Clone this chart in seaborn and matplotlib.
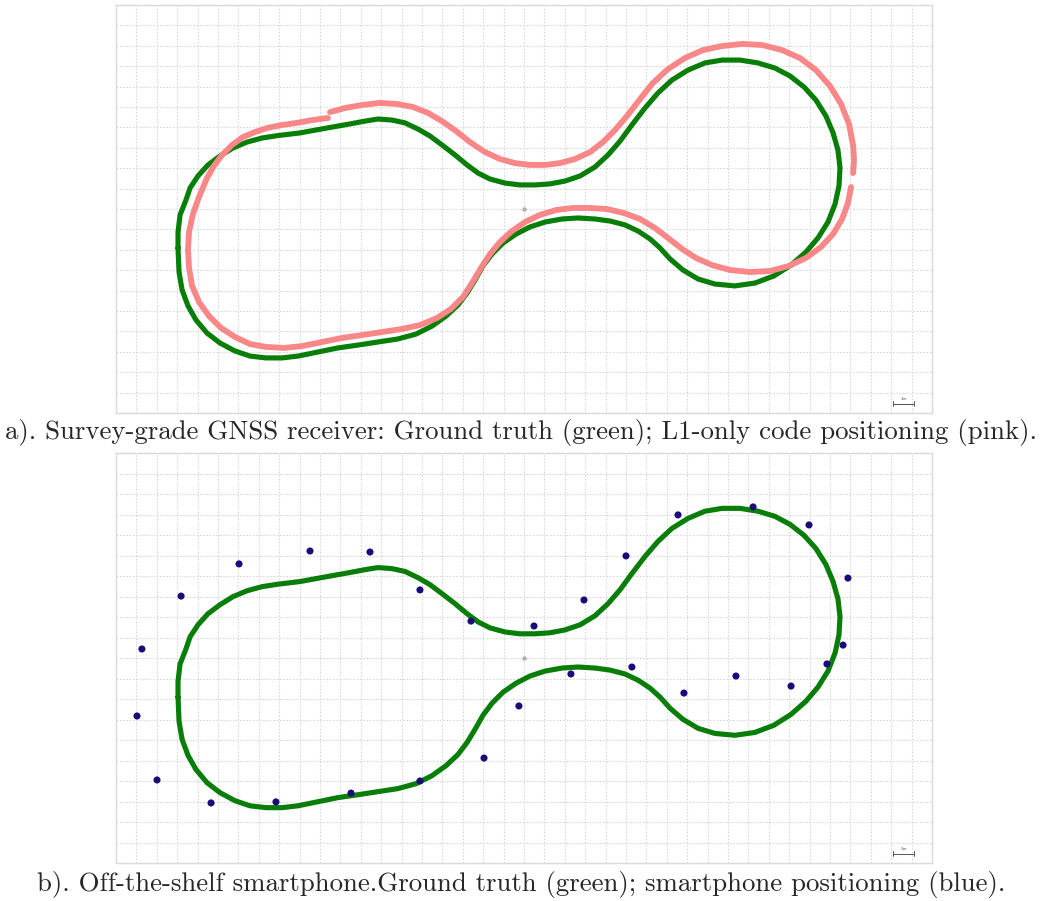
import numpy as np
import pandas as pd
import matplotlib
matplotlib.use("Agg")
import matplotlib.pyplot as plt
import seaborn as sns

# Map extent in metres (1 grid cell = 1 m)
MAP_W, MAP_H = 40, 20

# Ground-truth trajectory (metres, clockwise from the west end)
truth_x = [3.04, 3.04, 3.14, 3.43, 3.63, 4.02, 4.51, 5.10, 5.73, 6.42, 7.16, 7.94,
           9.02, 10.34, 11.47, 12.21, 12.84, 13.53, 14.17, 14.80, 15.39, 15.98, 16.62,
           17.21, 17.75, 18.33, 19.07, 19.80, 20.54, 21.27, 22.01, 22.75, 23.48, 24.12,
           24.71, 25.29, 25.93, 26.57, 27.25, 28.04, 28.87, 29.71, 30.59, 31.47, 32.30,
           33.04, 33.73, 34.31, 34.80, 35.15, 35.39, 35.49, 35.44, 35.25, 34.90, 34.41,
           33.82, 33.09, 32.25, 31.32, 30.34, 29.36, 28.53, 27.79, 27.16, 26.67, 26.18,
           25.59, 24.95, 24.22, 23.48, 22.65, 21.86, 21.03, 20.29, 19.61, 18.97, 18.43,
           17.99, 17.60, 17.21, 16.76, 16.18, 15.49, 14.71, 13.82, 12.84, 11.86, 10.88,
           9.90, 8.92, 8.14, 7.35, 6.57, 5.83, 5.10, 4.46, 3.92, 3.53, 3.24, 3.09, 3.04]
truth_y = [8.09, 8.87, 9.71, 10.44, 11.03, 11.62, 12.16, 12.60, 12.99, 13.28, 13.48, 13.60,
           13.73, 13.97, 14.17, 14.31, 14.41, 14.36, 14.22, 13.92, 13.58, 13.14, 12.65,
           12.16, 11.76, 11.47, 11.27, 11.18, 11.18, 11.23, 11.37, 11.62, 12.06, 12.65,
           13.33, 14.12, 14.95, 15.69, 16.32, 16.81, 17.16, 17.30, 17.30, 17.16, 16.91,
           16.52, 15.98, 15.34, 14.56, 13.73, 12.89, 12.01, 11.13, 10.25, 9.36, 8.58,
           7.89, 7.25, 6.72, 6.37, 6.23, 6.32, 6.57, 7.01, 7.55, 8.09, 8.53,
           8.92, 9.22, 9.41, 9.51, 9.56, 9.51, 9.36, 9.12, 8.77, 8.33, 7.79,
           7.21, 6.52, 5.88, 5.29, 4.75, 4.26, 3.87, 3.63, 3.48, 3.33, 3.19,
           2.99, 2.79, 2.70, 2.70, 2.79, 3.04, 3.43, 3.92, 4.56, 5.25, 6.03, 6.91, 8.09]

# L1-only code positioning, two continuous pieces
l1_seg1_x = [10.49, 11.23, 12.06, 12.94, 13.77, 14.56, 15.29, 15.98, 16.67, 17.35, 18.09,
             18.82, 19.56, 20.29, 21.03, 21.76, 22.50, 23.24, 23.87, 24.46, 25.05, 25.69,
             26.32, 27.06, 27.89, 28.77, 29.71, 30.69, 31.67, 32.65, 33.53, 34.31, 35.00,
             35.54, 35.93, 36.13, 36.18, 36.13]
l1_seg1_y = [14.75, 14.95, 15.10, 15.20, 15.15, 15.00, 14.71, 14.31, 13.82, 13.28, 12.79,
             12.45, 12.25, 12.16, 12.16, 12.25, 12.45, 12.79, 13.28, 13.87, 14.56, 15.39,
             16.18, 16.86, 17.40, 17.79, 17.99, 18.09, 18.04, 17.79, 17.40, 16.81, 16.03,
             15.15, 14.17, 13.14, 12.40, 11.76]
l1_seg2_x = [36.03, 35.88, 35.59, 35.15, 34.56, 33.82, 32.99, 32.06, 31.08, 30.10, 29.22,
             28.43, 27.75, 27.06, 26.42, 25.69, 24.90, 24.07, 23.24, 22.40, 21.57, 20.78,
             20.05, 19.41, 18.82, 18.33, 17.89, 17.45, 17.01, 16.42, 15.74, 14.90, 14.02,
             13.04, 12.06, 11.08, 10.10, 9.12, 8.24, 7.35, 6.57, 5.83, 5.15, 4.56, 4.07,
             3.73, 3.58, 3.53, 3.58, 3.77, 4.07, 4.46, 4.80, 5.20, 5.69, 6.23, 6.81, 7.40,
             8.14, 8.87, 9.61, 10.39]
l1_seg2_y = [11.08, 10.29, 9.51, 8.77, 8.14, 7.60, 7.21, 6.96, 6.91, 7.01, 7.25,
             7.60, 8.04, 8.58, 9.07, 9.51, 9.80, 10.00, 10.05, 10.05, 9.95, 9.71,
             9.36, 8.92, 8.38, 7.79, 7.11, 6.37, 5.69, 5.10, 4.66, 4.31, 4.12,
             3.97, 3.82, 3.68, 3.48, 3.28, 3.19, 3.24, 3.38, 3.73, 4.17, 4.75, 5.44,
             6.23, 7.11, 7.99, 8.87, 9.75, 10.59, 11.52, 12.11, 12.65, 13.14, 13.53, 13.77, 13.97,
             14.12, 14.22, 14.36, 14.46]

# Smartphone fixes
phone_x = [1.27, 1.03, 2.01, 4.66, 7.84, 11.52, 14.90, 18.04, 19.75, 22.30, 25.29, 27.84,
           30.39, 33.09, 34.85, 35.64, 35.88, 33.97, 31.23, 27.55, 25.0, 22.94, 20.49,
           17.40, 14.90, 12.45, 9.51, 6.03, 3.19]
phone_y = [10.44, 7.17, 4.05, 2.93, 2.98, 3.41, 4.00, 5.12, 7.66, 9.22, 9.56, 8.29,
           9.12, 8.63, 9.71, 10.63, 13.90, 16.49, 17.37, 16.98, 14.98, 12.83, 11.56,
           11.80, 13.32, 15.17, 15.22, 14.59, 13.02]

captions = [
    "a). Survey-grade GNSS receiver: Ground truth (green); L1-only code positioning (pink).",
    "b). Off-the-shelf smartphone.Ground truth (green); smartphone positioning (blue).",
]

GREEN = "#087d08"
PINK = "#f98787"
BLUE = "#1c0a78"

truth = pd.DataFrame({"x": truth_x, "y": truth_y})
l1 = pd.concat([
    pd.DataFrame({"x": l1_seg1_x, "y": l1_seg1_y, "seg": 0}),
    pd.DataFrame({"x": l1_seg2_x, "y": l1_seg2_y, "seg": 1}),
], ignore_index=True)
phone = pd.DataFrame({"x": phone_x, "y": phone_y})

sns.set_style("white")
fig = plt.figure(figsize=(10.42, 9.01), dpi=100)
ax_a = fig.add_axes([116 / 1042, 1 - 413 / 901, 816 / 1042, 408 / 901])
ax_b = fig.add_axes([116 / 1042, 1 - 863 / 901, 816 / 1042, 410 / 901])


def style_map(ax):
    ax.set_xlim(0, MAP_W)
    ax.set_ylim(0, MAP_H)
    for v in range(1, MAP_W):
        ax.axvline(v, color="#d8d8d8", lw=0.8, ls=(0, (1.5, 1.5)), zorder=0)
    for h in range(1, MAP_H):
        ax.axhline(h, color="#d8d8d8", lw=0.8, ls=(0, (1.5, 1.5)), zorder=0)
    for s in ax.spines.values():
        s.set_color("#dadada")
        s.set_linewidth(1.0)
    # map centre marker
    ax.plot([MAP_W / 2], [MAP_H / 2], "o", ms=2.2, color="#b0b0b0", zorder=1)
    # 1 m scale bar
    x0, x1, yb = 38.1, 39.1, 0.45
    ax.plot([x0, x1], [yb, yb], color="#555555", lw=0.7)
    ax.plot([x0, x0], [yb - 0.12, yb + 0.12], color="#555555", lw=0.7)
    ax.plot([x1, x1], [yb - 0.12, yb + 0.12], color="#555555", lw=0.7)
    ax.text((x0 + x1) / 2, yb + 0.12, "1m", fontsize=3, color="#555555",
            ha="center", va="bottom")


# Panel a: ground truth vs L1-only code solution
style_map(ax_a)
sns.lineplot(data=truth, x="x", y="y", sort=False, estimator=None, ax=ax_a,
             color=GREEN, lw=3.7, solid_capstyle="round", solid_joinstyle="round", zorder=3)
sns.lineplot(data=l1, x="x", y="y", units="seg", sort=False, estimator=None, ax=ax_a,
             color=PINK, lw=4.2, solid_capstyle="round", solid_joinstyle="round", zorder=4)

# Panel b: ground truth vs smartphone fixes
style_map(ax_b)
sns.lineplot(data=truth, x="x", y="y", sort=False, estimator=None, ax=ax_b,
             color=GREEN, lw=3.7, solid_capstyle="round", solid_joinstyle="round", zorder=3)
sns.scatterplot(data=phone, x="x", y="y", ax=ax_b, color=BLUE, s=26,
                edgecolor="none", zorder=5)

for ax in (ax_a, ax_b):
    ax.set_xlabel("")
    ax.set_ylabel("")
    ax.set_xticks([])
    ax.set_yticks([])

fig.text(521 / 1042, 1 - 433 / 901, captions[0], ha="center", va="center",
         fontsize=19.3, family=["cmr10", "DejaVu Serif"])
fig.text(521 / 1042, 1 - 884 / 901, captions[1], ha="center", va="center",
         fontsize=19.3, family=["cmr10", "DejaVu Serif"])

fig.savefig("out.png", dpi=100)
